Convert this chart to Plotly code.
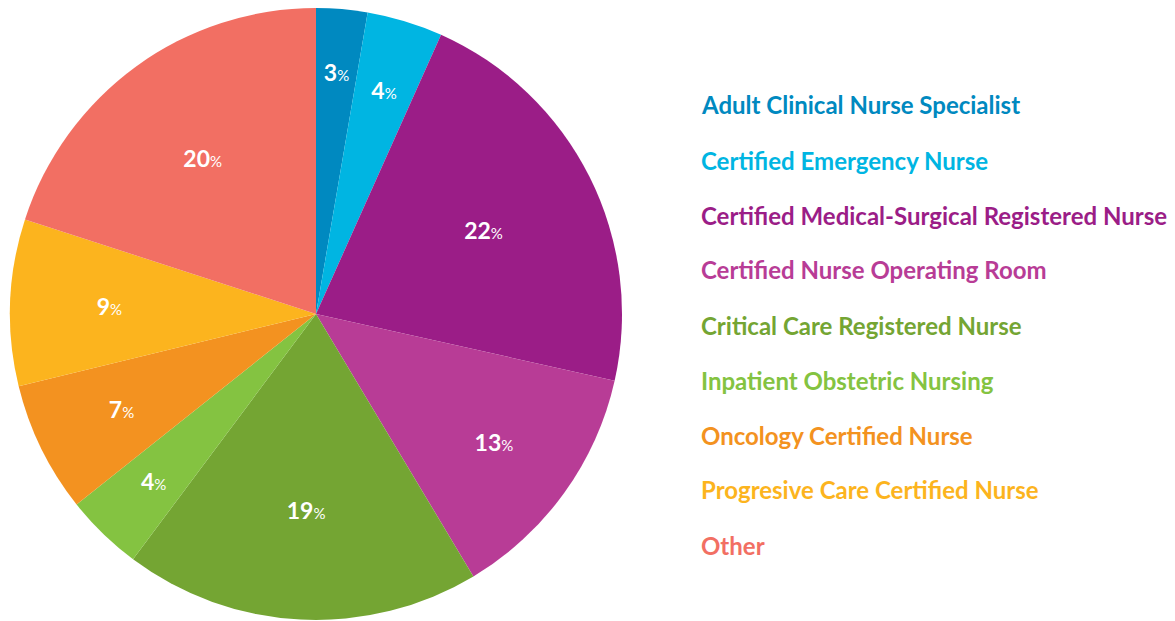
import plotly.graph_objects as go

labels = [
    "Adult Clinical Nurse Specialist",
    "Certified Emergency Nurse",
    "Certified Medical-Surgical Registered Nurse",
    "Certified Nurse Operating Room",
    "Critical Care Registered Nurse",
    "Inpatient Obstetric Nursing",
    "Oncology Certified Nurse",
    "Progresive Care Certified Nurse",
    "Other",
]
# slice sizes (estimated from angles) and printed percentages
values = [2.7, 4.0, 21.8, 12.9, 18.8, 4.1, 6.9, 8.8, 20.0]
shown = [3, 4, 22, 13, 19, 4, 7, 9, 20]
colors = ["#0089C0", "#00B5E2", "#9B1D87", "#B83C96", "#74A533",
          "#84C341", "#F39220", "#FCB41E", "#F26F63"]

FONT = "Lato"
W, H = 1175, 621
CX, CY, R = 316, 314, 306
INNER = 0.86  # labels of narrow slices sit a bit further in


def label(s):
    return f"<b>{s}</b><span style='font-size:15px'>%</span>"


def dom(r):
    return dict(x=[(CX - r) / W, (CX + r) / W],
                y=[(H - CY - r) / H, (H - CY + r) / H])


big_txt = [label(s) if v >= 10 else "" for s, v in zip(shown, values)]
small_txt = [label(s) if v < 10 else "" for s, v in zip(shown, values)]

common = dict(
    labels=labels, values=values, textinfo="text",
    textposition="inside", insidetextorientation="horizontal",
    textfont=dict(family=FONT, size=23, color="white"),
    sort=False, direction="clockwise", rotation=0, showlegend=False,
)

fig = go.Figure()
fig.add_trace(go.Pie(
    text=big_txt,
    marker=dict(colors=colors, line=dict(width=0)),
    hoverinfo="label+percent",
    domain=dom(R),
    **common,
))
fig.add_trace(go.Pie(
    text=small_txt,
    marker=dict(colors=["rgba(0,0,0,0)"] * len(values), line=dict(width=0)),
    hoverinfo="skip",
    domain=dom(R * INNER),
    **common,
))

annotations = []
for i, (lab, col) in enumerate(zip(labels, colors)):
    annotations.append(dict(
        x=699 / W, y=1 - (105 + 55 * i) / H,
        xref="paper", yref="paper",
        xanchor="left", yanchor="middle",
        text=f"<b>{lab}</b>",
        showarrow=False,
        font=dict(family=FONT, size=24, color=col),
    ))

fig.update_layout(
    width=W, height=H,
    margin=dict(l=0, r=0, t=0, b=0),
    paper_bgcolor="white",
    plot_bgcolor="white",
    annotations=annotations,
    uniformtext=dict(minsize=10, mode="show"),
)

fig.write_html(
    "out.html",
    config={"displayModeBar": False},
    post_script="document.body.style.margin='0';document.body.style.overflow='hidden';",
)
